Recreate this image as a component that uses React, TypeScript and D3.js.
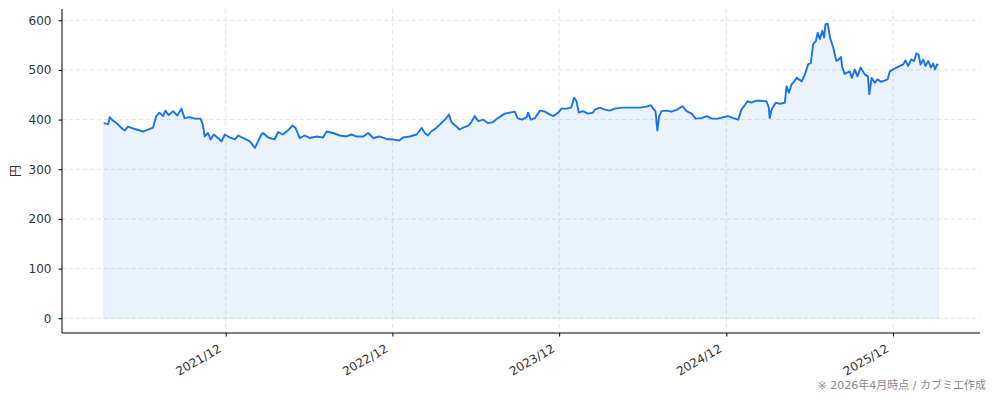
import { useEffect, useRef } from 'react';
import * as d3 from 'd3';

// price history (円)
const prices2021: [string, number][] = [
  ["2021-03-09", 393], ["2021-03-19", 391], ["2021-03-22", 405], ["2021-03-29", 398], ["2021-04-06", 393],
  ["2021-04-17", 383], ["2021-04-24", 378], ["2021-05-01", 386], ["2021-05-16", 381], ["2021-06-03", 376],
  ["2021-06-14", 380], ["2021-06-25", 384], ["2021-07-02", 407], ["2021-07-09", 414], ["2021-07-17", 407],
  ["2021-07-22", 418], ["2021-07-29", 409], ["2021-08-08", 417], ["2021-08-17", 408], ["2021-08-26", 422],
  ["2021-09-02", 403], ["2021-09-13", 405], ["2021-09-24", 402], ["2021-10-07", 402], ["2021-10-12", 390],
  ["2021-10-16", 366], ["2021-10-23", 373], ["2021-10-29", 360], ["2021-11-05", 370], ["2021-11-14", 363],
  ["2021-11-22", 356], ["2021-11-29", 370], ["2021-12-10", 364], ["2021-12-21", 360], ["2021-12-29", 368],
];

const prices2022: [string, number][] = [
  ["2022-01-08", 363], ["2022-01-23", 356], ["2022-02-03", 343], ["2022-02-10", 356], ["2022-02-17", 370],
  ["2022-02-21", 373], ["2022-03-04", 364], ["2022-03-18", 360], ["2022-03-26", 375], ["2022-04-05", 370],
  ["2022-04-16", 378], ["2022-04-26", 388], ["2022-05-03", 383], ["2022-05-12", 363], ["2022-05-23", 368],
  ["2022-06-03", 363], ["2022-06-18", 366], ["2022-07-02", 364], ["2022-07-10", 376], ["2022-07-24", 373],
  ["2022-08-08", 368], ["2022-08-22", 366], ["2022-09-02", 370], ["2022-09-13", 366], ["2022-09-28", 366],
  ["2022-10-09", 373], ["2022-10-20", 363], ["2022-11-03", 366], ["2022-11-18", 361], ["2022-12-02", 360],
  ["2022-12-16", 358], ["2022-12-24", 364],
];

const prices2023: [string, number][] = [
  ["2023-01-08", 366], ["2023-01-23", 370], ["2023-02-03", 383], ["2023-02-10", 373], ["2023-02-17", 368],
  ["2023-02-24", 376], ["2023-03-07", 383], ["2023-03-18", 393], ["2023-03-29", 403], ["2023-04-04", 410],
  ["2023-04-09", 395], ["2023-04-20", 386], ["2023-04-27", 380], ["2023-05-05", 384], ["2023-05-16", 388],
  ["2023-05-23", 395], ["2023-05-30", 407], ["2023-06-07", 397], ["2023-06-17", 400], ["2023-06-28", 393],
  ["2023-07-09", 395], ["2023-07-20", 403], ["2023-08-04", 412], ["2023-08-15", 414], ["2023-08-26", 416],
  ["2023-09-01", 403], ["2023-09-11", 400], ["2023-09-21", 405], ["2023-09-24", 414], ["2023-09-30", 400],
  ["2023-10-09", 403], ["2023-10-20", 418], ["2023-10-31", 416], ["2023-11-11", 410], ["2023-11-18", 407],
  ["2023-11-29", 414], ["2023-12-06", 422], ["2023-12-17", 422], ["2023-12-27", 424],
];

const prices2024: [string, number][] = [
  ["2024-01-03", 444], ["2024-01-08", 437], ["2024-01-13", 414], ["2024-01-22", 417], ["2024-02-02", 412],
  ["2024-02-13", 414], ["2024-02-17", 420], ["2024-02-28", 424], ["2024-03-10", 420], ["2024-03-21", 418],
  ["2024-04-01", 422], ["2024-04-16", 424], ["2024-05-04", 424], ["2024-05-26", 424], ["2024-06-09", 426],
  ["2024-06-19", 429], ["2024-06-24", 422], ["2024-06-29", 417], ["2024-07-03", 378], ["2024-07-07", 407],
  ["2024-07-12", 417], ["2024-07-23", 418], ["2024-08-03", 416], ["2024-08-15", 420], ["2024-08-27", 427],
  ["2024-09-05", 417], ["2024-09-16", 412], ["2024-09-25", 402], ["2024-10-08", 403], ["2024-10-19", 407],
  ["2024-10-30", 402], ["2024-11-13", 402], ["2024-11-24", 405], ["2024-12-05", 407], ["2024-12-16", 403],
  ["2024-12-27", 400],
];

const prices2025: [string, number][] = [
  ["2025-01-03", 420], ["2025-01-11", 430], ["2025-01-16", 437], ["2025-01-25", 434], ["2025-02-05", 438],
  ["2025-02-12", 438], ["2025-02-27", 437], ["2025-03-04", 424], ["2025-03-06", 403], ["2025-03-10", 420],
  ["2025-03-19", 434], ["2025-03-28", 432], ["2025-04-08", 434], ["2025-04-12", 467], ["2025-04-17", 454],
  ["2025-04-23", 471], ["2025-04-29", 477], ["2025-05-04", 484], ["2025-05-15", 477], ["2025-05-22", 491],
  ["2025-05-29", 511], ["2025-06-04", 514], ["2025-06-09", 552], ["2025-06-15", 558], ["2025-06-19", 575],
  ["2025-06-24", 562], ["2025-06-29", 579], ["2025-07-03", 565], ["2025-07-06", 592], ["2025-07-11", 593],
  ["2025-07-16", 565], ["2025-07-23", 545], ["2025-07-30", 518], ["2025-08-04", 521], ["2025-08-09", 526],
  ["2025-08-12", 505], ["2025-08-17", 492], ["2025-08-28", 497], ["2025-09-02", 484], ["2025-09-08", 501],
  ["2025-09-14", 487], ["2025-09-21", 505], ["2025-09-30", 491], ["2025-10-07", 487], ["2025-10-10", 451],
  ["2025-10-15", 484], ["2025-10-22", 474], ["2025-10-28", 481], ["2025-11-05", 476], ["2025-11-19", 481],
  ["2025-11-24", 497], ["2025-12-01", 501], ["2025-12-12", 506], ["2025-12-23", 511], ["2025-12-28", 519],
];

const prices2026: [string, number][] = [
  ["2026-01-03", 508], ["2026-01-10", 521], ["2026-01-16", 518], ["2026-01-21", 533], ["2026-01-26", 531],
  ["2026-01-30", 511], ["2026-02-05", 521], ["2026-02-10", 508], ["2026-02-16", 518], ["2026-02-22", 505],
  ["2026-02-27", 513], ["2026-03-03", 501], ["2026-03-07", 511], ["2026-03-10", 510],
];

const xTickDates = ["2021-12-01", "2022-12-01", "2023-12-01", "2024-12-01", "2025-12-01"];
const yTicks = [0, 100, 200, 300, 400, 500, 600];
const yLabel = "円";
const footnote = "※ 2026年4月時点 / カブミエ作成";

const FONT = '"DejaVu Sans", "Noto Sans CJK JP", sans-serif';

export default function App() {
  const svgRef = useRef<SVGSVGElement>(null);

  useEffect(() => {
    if (!svgRef.current) return;
    const svg = d3.select(svgRef.current);
    svg.selectAll("*").remove();

    const width = 994;
    const height = 401;
    const margin = { top: 9, right: 14, bottom: 68, left: 62 };
    const parse = d3.timeParse("%Y-%m-%d");

    const data = [...prices2021, ...prices2022, ...prices2023, ...prices2024, ...prices2025, ...prices2026]
      .map(([d, v]) => ({ date: parse(d)!, value: v }));

    // matplotlib-like 5% padding on both axes
    const [t0, t1] = d3.extent(data, d => d.date) as [Date, Date];
    const span = t1.getTime() - t0.getTime();
    const x = d3.scaleTime()
      .domain([new Date(t0.getTime() - span * 0.05), new Date(t1.getTime() + span * 0.05)])
      .range([margin.left, width - margin.right]);

    const vMax = d3.max(data, d => d.value)!;
    const y = d3.scaleLinear()
      .domain([-vMax * 0.05, vMax * 1.05])
      .range([height - margin.bottom, margin.top]);

    const xTicks = xTickDates.map(d => parse(d)!);

    // grid
    svg.append("g")
      .selectAll("line")
      .data(yTicks)
      .enter().append("line")
      .attr("x1", margin.left)
      .attr("x2", width - margin.right)
      .attr("y1", d => y(d))
      .attr("y2", d => y(d))
      .attr("stroke", "#dcdcdc")
      .attr("stroke-width", 0.8)
      .attr("stroke-dasharray", "4,3");

    svg.append("g")
      .selectAll("line")
      .data(xTicks)
      .enter().append("line")
      .attr("x1", d => x(d))
      .attr("x2", d => x(d))
      .attr("y1", margin.top)
      .attr("y2", height - margin.bottom)
      .attr("stroke", "#dcdcdc")
      .attr("stroke-width", 0.8)
      .attr("stroke-dasharray", "4,3");

    // area fill
    const area = d3.area<{ date: Date; value: number }>()
      .x(d => x(d.date))
      .y0(y(0))
      .y1(d => y(d.value));

    svg.append("path")
      .datum(data)
      .attr("d", area)
      .attr("fill", "#1a73e8")
      .attr("fill-opacity", 0.09)
      .attr("stroke", "#1a73e8")
      .attr("stroke-opacity", 0.08)
      .attr("stroke-width", 1);

    const line = d3.line<{ date: Date; value: number }>()
      .x(d => x(d.date))
      .y(d => y(d.value));

    svg.append("path")
      .datum(data)
      .attr("d", line)
      .attr("fill", "none")
      .attr("stroke", "#1a73e8")
      .attr("stroke-width", 1.9)
      .attr("stroke-linejoin", "round");

    // axes
    const yAxis = svg.append("g")
      .attr("transform", `translate(${margin.left},0)`)
      .call(d3.axisLeft(y).tickValues(yTicks).tickSize(3.5).tickPadding(7).tickSizeOuter(0));
    yAxis.select(".domain").attr("stroke", "#000").attr("d", `M0,${margin.top}V${height - margin.bottom}`);
    yAxis.selectAll("text").attr("font-family", FONT).attr("font-size", "12px").attr("fill", "#333");

    const xAxis = svg.append("g")
      .attr("transform", `translate(0,${height - margin.bottom})`)
      .call(d3.axisBottom(x).tickValues(xTicks).tickFormat(d => d3.timeFormat("%Y/%m")(d as Date)).tickSize(3.5).tickSizeOuter(0));
    xAxis.select(".domain").attr("stroke", "#000").attr("d", `M${margin.left},0H${width - margin.right}`);
    xAxis.selectAll("text")
      .attr("font-family", FONT)
      .attr("font-size", "12px")
      .attr("fill", "#333")
      .attr("text-anchor", "end")
      .attr("x", -4)
      .attr("y", 18)
      .attr("dy", 0)
      .attr("transform", "rotate(-30,-4,18)");

    // y label
    svg.append("text")
      .attr("transform", `translate(20,${(margin.top + height - margin.bottom) / 2}) rotate(-90)`)
      .attr("text-anchor", "middle")
      .attr("font-family", FONT)
      .attr("font-size", "12px")
      .attr("fill", "#333")
      .text(yLabel);

    // footnote
    svg.append("text")
      .attr("x", 986)
      .attr("y", 389)
      .attr("text-anchor", "end")
      .attr("font-family", FONT)
      .attr("font-size", "11px")
      .attr("fill", "#888")
      .text(footnote);
  }, []);

  return (
    <svg
      ref={svgRef}
      width={994}
      height={401}
      style={{ position: "absolute", left: 0, top: 0, background: "#fff" }}
    />
  );
}
